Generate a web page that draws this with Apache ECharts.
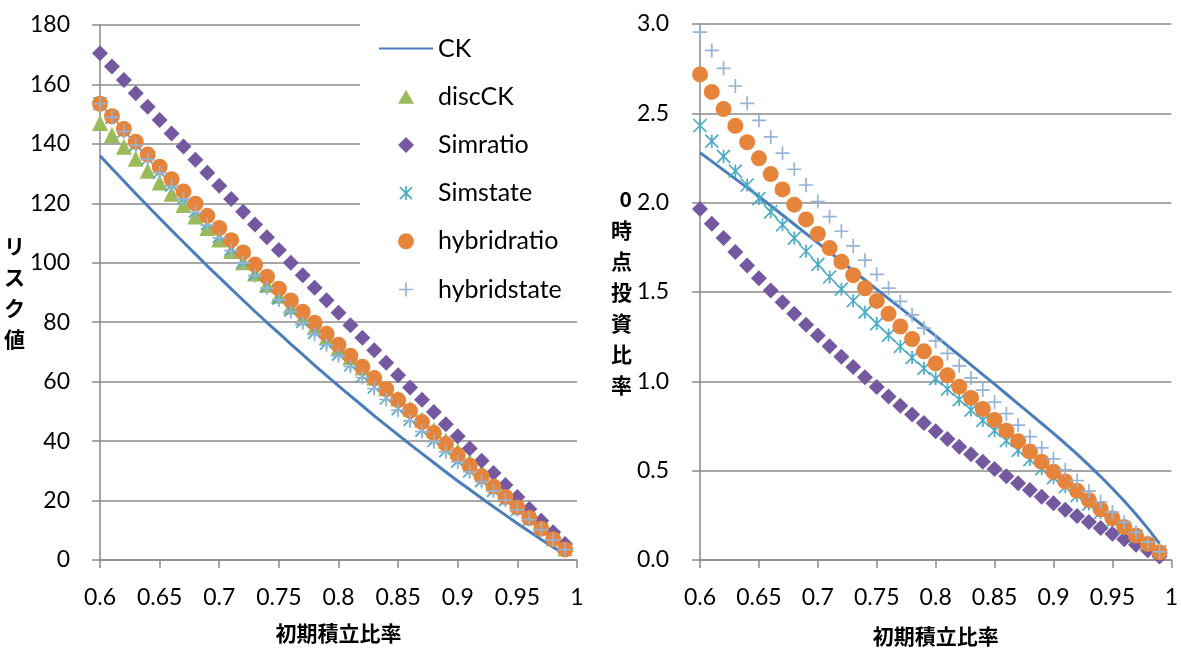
<!DOCTYPE html>
<html>
<head>
<meta charset="utf-8">
<script src="https://cdn.jsdelivr.net/npm/echarts@6/dist/echarts.min.js"></script>
<style>
  html, body { margin: 0; padding: 0; background: #ffffff; }
  #chart { width: 1181px; height: 652px; }
</style>
</head>
<body>
<div id="chart"></div>
<script>
// Initial funding ratio (x) shared by both panels
const ratios = [0.60, 0.61, 0.62, 0.63, 0.64, 0.65, 0.66, 0.67, 0.68, 0.69,
                0.70, 0.71, 0.72, 0.73, 0.74, 0.75, 0.76, 0.77, 0.78, 0.79,
                0.80, 0.81, 0.82, 0.83, 0.84, 0.85, 0.86, 0.87, 0.88, 0.89,
                0.90, 0.91, 0.92, 0.93, 0.94, 0.95, 0.96, 0.97, 0.98, 0.99];

// Left panel: risk value
const riskCK = [136.0, 131.7, 127.5, 123.2, 119.1, 115.0, 110.9, 106.9, 102.9, 98.9,
                95.1, 91.2, 87.4, 83.6, 79.9, 76.3, 72.6, 69.1, 65.5, 62.0,
                58.6, 55.2, 51.9, 48.5, 45.3, 42.1, 38.9, 35.8, 32.7, 29.6,
                26.6, 23.7, 20.8, 17.9, 15.1, 12.3, 9.6, 6.9, 4.3, 1.9];
const riskDiscCK = [147.0, 143.0, 139.0, 135.0, 131.0, 127.0, 123.2, 119.4, 115.6, 111.7,
                    107.8, 104.0, 100.2, 96.4, 92.6, 88.9, 85.3, 81.7, 78.3, 74.9,
                    71.5, 68.2, 64.8, 61.3, 57.8, 54.3, 50.9, 47.3, 43.7, 40.2,
                    36.6, 33.1, 29.6, 26.1, 22.7, 19.2, 15.8, 12.3, 8.8, 5.4];
const riskSimratio = [170.5, 166.0, 161.5, 157.0, 152.5, 148.0, 143.5, 139.1, 134.7, 130.3,
                      125.9, 121.5, 117.2, 112.9, 108.6, 104.3, 100.0, 95.8, 91.6, 87.4,
                      83.2, 79.0, 74.8, 70.6, 66.4, 62.2, 58.0, 53.9, 49.8, 45.7,
                      41.6, 37.5, 33.4, 29.3, 25.2, 21.2, 17.2, 13.2, 9.3, 5.4];
const riskSimstate = [153.5, 149.0, 144.3, 139.7, 135.0, 130.6, 126.1, 121.8, 117.4, 113.2,
                      108.9, 104.6, 100.4, 96.3, 92.1, 88.1, 84.1, 80.3, 76.6, 73.0,
                      69.3, 65.6, 61.9, 58.2, 54.5, 50.9, 47.3, 43.7, 40.2, 36.8,
                      33.3, 30.0, 26.7, 23.4, 20.3, 17.0, 13.7, 10.2, 6.8, 3.5];
const riskHybridratio = [153.5, 149.3, 145.0, 140.7, 136.4, 132.3, 128.1, 124.0, 119.9, 115.8,
                         111.7, 107.6, 103.5, 99.4, 95.3, 91.3, 87.3, 83.5, 79.8, 76.1,
                         72.4, 68.7, 65.0, 61.2, 57.5, 53.8, 50.2, 46.4, 42.7, 39.0,
                         35.3, 31.7, 28.2, 24.7, 21.2, 17.7, 14.1, 10.5, 7.0, 3.5];
const riskHybridstate = [153.5, 148.9, 144.2, 139.5, 134.8, 130.3, 125.8, 121.4, 117.0, 112.7,
                         108.4, 104.1, 99.9, 95.7, 91.5, 87.5, 83.5, 79.7, 76.0, 72.4,
                         68.7, 65.1, 61.4, 57.7, 54.0, 50.4, 46.8, 43.2, 39.8, 36.4,
                         33.0, 29.7, 26.4, 23.2, 20.1, 16.9, 13.6, 10.2, 6.8, 3.5];

// Right panel: investment ratio at time 0
const invCK = [2.280, 2.231, 2.182, 2.133, 2.084, 2.035, 1.983, 1.931, 1.879, 1.827,
               1.775, 1.723, 1.671, 1.619, 1.567, 1.515, 1.463, 1.411, 1.359, 1.307,
               1.254, 1.200, 1.146, 1.092, 1.038, 0.984, 0.929, 0.874, 0.819, 0.764,
               0.709, 0.652, 0.593, 0.531, 0.467, 0.400, 0.330, 0.256, 0.177, 0.092];
const invSimratio = [1.965, 1.882, 1.802, 1.724, 1.649, 1.577, 1.508, 1.442, 1.378, 1.316,
                     1.256, 1.196, 1.137, 1.080, 1.023, 0.968, 0.915, 0.864, 0.815, 0.767,
                     0.721, 0.677, 0.634, 0.592, 0.550, 0.509, 0.469, 0.430, 0.392, 0.354,
                     0.317, 0.281, 0.246, 0.212, 0.179, 0.147, 0.116, 0.085, 0.055, 0.020];
const invSimstate = [2.432, 2.344, 2.259, 2.177, 2.099, 2.023, 1.949, 1.876, 1.802, 1.728,
                     1.655, 1.584, 1.516, 1.451, 1.387, 1.323, 1.259, 1.195, 1.133, 1.073,
                     1.015, 0.956, 0.898, 0.839, 0.781, 0.724, 0.668, 0.614, 0.562, 0.511,
                     0.461, 0.410, 0.361, 0.313, 0.266, 0.220, 0.175, 0.131, 0.088, 0.045];
const invHybridratio = [2.718, 2.620, 2.524, 2.430, 2.338, 2.248, 2.160, 2.074, 1.989, 1.906,
                        1.825, 1.746, 1.669, 1.594, 1.521, 1.450, 1.378, 1.307, 1.237, 1.168,
                        1.100, 1.034, 0.970, 0.907, 0.845, 0.784, 0.724, 0.665, 0.607, 0.550,
                        0.494, 0.440, 0.387, 0.335, 0.284, 0.234, 0.185, 0.137, 0.090, 0.043];
const invHybridstate = [2.954, 2.852, 2.752, 2.653, 2.556, 2.461, 2.368, 2.277, 2.187, 2.099,
                        2.006, 1.922, 1.840, 1.758, 1.678, 1.599, 1.522, 1.447, 1.372, 1.298,
                        1.226, 1.156, 1.087, 1.019, 0.951, 0.884, 0.819, 0.755, 0.691, 0.628,
                        0.566, 0.505, 0.445, 0.385, 0.326, 0.268, 0.211, 0.155, 0.100, 0.046];

// Axis ranges and titles
const xMin = 0.6, xMax = 1, xStep = 0.05;
const riskMax = 180, riskStep = 20;
const invMax = 3, invStep = 0.5;
const xTitle = '初期積立比率';
const riskTitle = 'リスク値';
const invTitle = '0時点投資比率';

const C_BLUE = '#4a7ebb', C_GREEN = '#9bbb59', C_PURPLE = '#7459a0',
      C_TEAL = '#4bacc6', C_ORANGE = '#e5843a', C_LIGHT = '#95b3d7';
const GRID_GRAY = '#8a8a8a';
const LABEL_FONT = 'Lato, "Liberation Sans", sans-serif';
const CJK_FONT = '"Noto Sans CJK JP", sans-serif';

// Excel-style star (X with a vertical bar) and plus markers, stroked only
const STAR = 'path://M0,0L10,10M10,0L0,10M5,0L5,10';
const PLUS = 'path://M5,0L5,10M0,5L10,5';

// Legend icons drawn in a 54x16 box (zero-length corner segments fix the box),
// so the marker keeps its own proportions in the middle of the wide legend slot
const BOX = 'M0,0L0,0M54,16L54,16';
const LEG_TRIANGLE = 'path://' + BOX + 'M19,15L35,15L27,1Z';
const LEG_DIAMOND = 'path://' + BOX + 'M27,0L35,8L27,16L19,8Z';
const LEG_CIRCLE = 'path://' + BOX + 'M19,8A8,8,0,1,0,35,8A8,8,0,1,0,19,8Z';
const LEG_STAR = 'path://' + BOX + 'M21,2L33,14M33,2L21,14M27,1L27,15';
const LEG_PLUS = 'path://' + BOX + 'M27,1L27,15M20,8L34,8';

function pairs(ys) { return ratios.map((x, i) => [x, ys[i]]); }
function stacked(text) { return text.split('').join('\n'); }

function xAxisFor(gridIndex, gap) {
  return {
    gridIndex, type: 'value', min: xMin, max: xMax, interval: xStep,
    name: xTitle, nameLocation: 'middle', nameGap: gap,
    nameTextStyle: { fontFamily: CJK_FONT, fontWeight: 'bold', fontSize: 21, color: '#000' },
    axisLine: { show: true, onZero: false, lineStyle: { color: GRID_GRAY, width: 1.5 } },
    axisTick: { show: true, inside: false, length: 8, lineStyle: { color: GRID_GRAY, width: 1.5 } },
    axisLabel: { margin: 26, fontFamily: LABEL_FONT, fontSize: 23, color: '#000',
                 formatter: v => String(Math.round(v * 100) / 100) },
    splitLine: { show: false }
  };
}

function yAxisFor(gridIndex, max, step, title, gap, margin, fmt, pad) {
  return {
    gridIndex, type: 'value', min: 0, max, interval: step,
    name: stacked(title), nameLocation: 'middle', nameGap: gap, nameRotate: 0,
    nameTextStyle: { fontFamily: CJK_FONT, fontWeight: 'bold', fontSize: 21, color: '#000',
                     lineHeight: 31, align: 'right', verticalAlign: 'middle', padding: pad },
    axisLine: { show: true, lineStyle: { color: GRID_GRAY, width: 1.5 } },
    axisTick: { show: true, inside: false, length: 8, lineStyle: { color: GRID_GRAY, width: 1.5 } },
    axisLabel: { margin, fontFamily: LABEL_FONT, fontSize: 23, color: '#000', formatter: fmt },
    splitLine: { show: true, lineStyle: { color: GRID_GRAY, width: 1.5 } }
  };
}

function lineSeries(name, idx, ys) {
  return { name, type: 'line', xAxisIndex: idx, yAxisIndex: idx, data: pairs(ys),
           symbol: 'none', smooth: false, lineStyle: { color: C_BLUE, width: 3 },
           itemStyle: { color: 'transparent' }, z: 2 };
}
function markSeries(name, idx, ys, symbol, size, color, stroke) {
  const s = { name, type: 'scatter', xAxisIndex: idx, yAxisIndex: idx, data: pairs(ys),
              symbol, symbolSize: size, z: 3 };
  s.itemStyle = stroke
    ? { color: 'transparent', borderColor: color, borderWidth: 1.7, opacity: 1 }
    : { color, borderWidth: 0, opacity: 1 };
  return s;
}

const series = [
  lineSeries('CK', 0, riskCK),
  markSeries('discCK', 0, riskDiscCK, 'triangle', 16, C_GREEN),
  markSeries('Simratio', 0, riskSimratio, 'diamond', 16, C_PURPLE),
  markSeries('Simstate', 0, riskSimstate, STAR, 13, C_TEAL, true),
  markSeries('hybridratio', 0, riskHybridratio, 'circle', 16, C_ORANGE),
  markSeries('hybridstate', 0, riskHybridstate, PLUS, 14, C_LIGHT, true),

  lineSeries('CK', 1, invCK),
  markSeries('Simratio', 1, invSimratio, 'diamond', 16, C_PURPLE),
  markSeries('Simstate', 1, invSimstate, STAR, 13, C_TEAL, true),
  markSeries('hybridratio', 1, invHybridratio, 'circle', 16, C_ORANGE),
  markSeries('hybridstate', 1, invHybridstate, PLUS, 14, C_LIGHT, true)
];

const legendData = [
  { name: 'CK' },
  { name: 'discCK', icon: LEG_TRIANGLE },
  { name: 'Simratio', icon: LEG_DIAMOND },
  { name: 'Simstate', icon: LEG_STAR, itemStyle: { borderWidth: 1.7 } },
  { name: 'hybridratio', icon: LEG_CIRCLE },
  { name: 'hybridstate', icon: LEG_PLUS, itemStyle: { borderWidth: 1.7 } }
];

const chart = echarts.init(document.getElementById('chart'), null, { renderer: 'canvas' });
chart.setOption({
  animation: false,
  backgroundColor: '#ffffff',
  grid: [
    { left: 100, top: 25, width: 477, height: 535 },
    { left: 700, top: 24, width: 475, height: 541 }
  ],
  xAxis: [xAxisFor(0, 63), xAxisFor(1, 66)],
  yAxis: [
    yAxisFor(0, riskMax, riskStep, riskTitle, 67, 30, v => String(v), 0),
    yAxisFor(1, invMax, invStep, invTitle, 68, 31, v => v.toFixed(1), [12, 0, 0, 0])
  ],
  legend: {
    orient: 'vertical',
    left: 360, top: 20,
    padding: [16, 24, 9, 18],
    backgroundColor: '#ffffff',
    itemWidth: 54, itemHeight: 16, itemGap: 23.2,
    selectedMode: false,
    textStyle: { fontFamily: LABEL_FONT, fontSize: 25, color: '#000' },
    data: legendData,
    z: 5
  },
  series
});
</script>
</body>
</html>
